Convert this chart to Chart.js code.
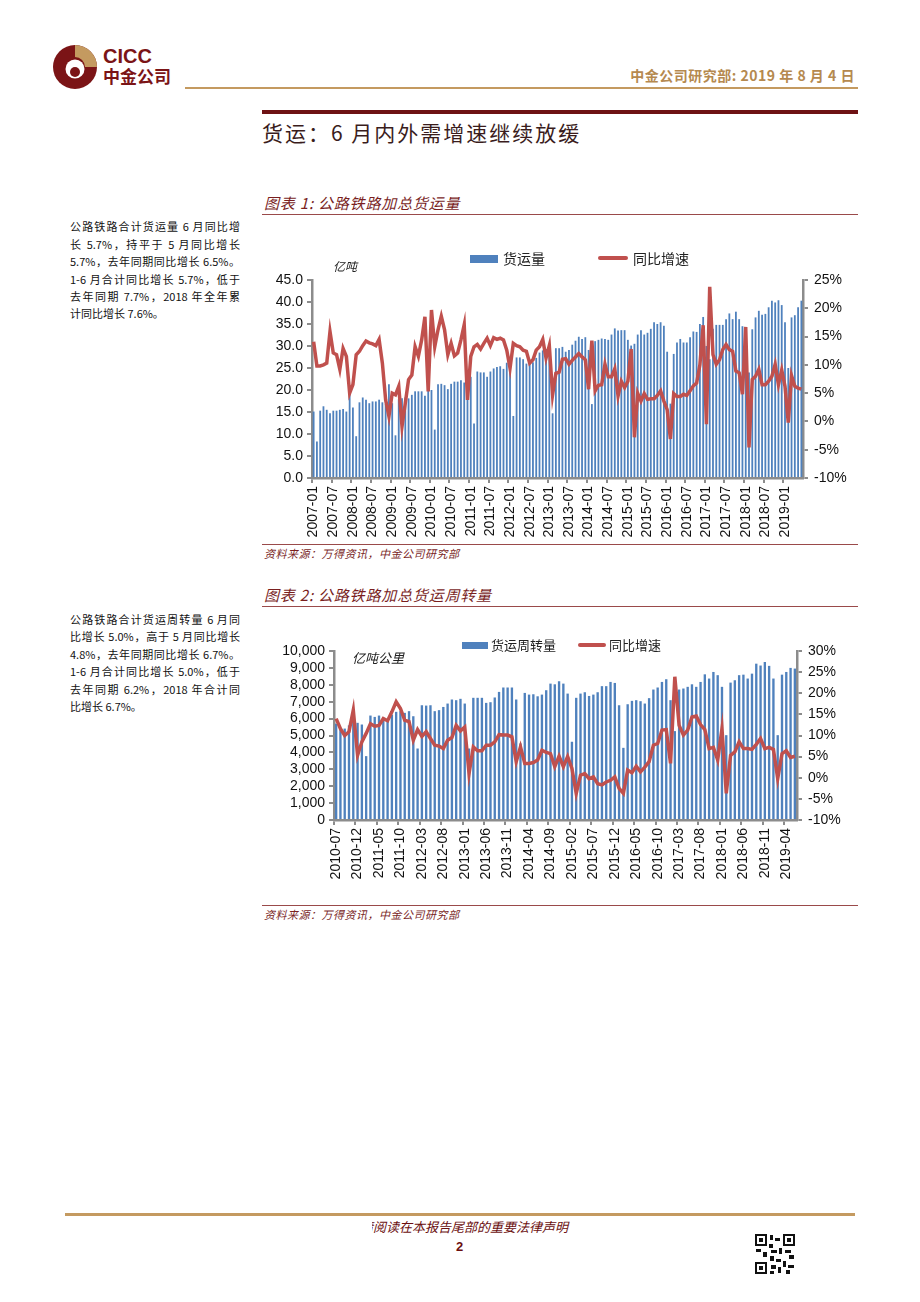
<!DOCTYPE html>
<html>
<head>
<meta charset="utf-8">
<script src="https://cdn.jsdelivr.net/npm/chart.js@4.4.0/dist/chart.umd.min.js"></script>
<style>
body { margin: 0; background: #fff; }
#page { position: relative; width: 920px; height: 1302px; overflow: hidden; font-family: "Noto Sans CJK SC", "Liberation Sans", sans-serif; }
.abs { position: absolute; white-space: nowrap; }
.side { position: absolute; left: 70px; width: 170px; font-size: 11px; line-height: 17.5px; color: #111; text-align: justify; text-align-last: justify; white-space: nowrap; }
.side.last { text-align-last: left; }
.ctitle { position: absolute; left: 264px; font-size: 15px; line-height: 18px; font-style: italic; color: #7a1f1f; letter-spacing: 0.8px; }
.src { position: absolute; left: 264px; font-size: 11px; line-height: 14px; font-style: italic; color: #7a1f1f; letter-spacing: 0.5px; }
.rule { position: absolute; left: 262px; width: 596px; height: 1px; background: #9a4a4a; }
.legend { position: absolute; font-size: 14px; line-height: 18px; color: #222; }
.box { position: absolute; }
</style>
</head>
<body>
<div id="page">
  <!-- header -->
  <svg class="abs" style="left:52px;top:44px" width="46" height="46" viewBox="0 0 46 46">
    <circle cx="23" cy="23" r="22" fill="#7b1416"/>
    <path d="M23 1 A22 22 0 0 1 45 23 L33 23 A10 10 0 0 0 23 13 Z" fill="#c49a60"/>
    <circle cx="23" cy="25" r="9.5" fill="#fff"/>
    <circle cx="23" cy="28" r="5" fill="#7b1416"/>
  </svg>
  <div class="abs" style="left:103px;top:45px;font:bold 20px 'Liberation Sans';color:#7b1416;line-height:22px">CICC</div>
  <div class="abs" style="left:103px;top:66px;font-weight:bold;font-size:17px;color:#7b1416;line-height:20px">中金公司</div>
  <div class="abs" style="right:65px;top:66px;font-weight:bold;font-size:14px;color:#b5894f;line-height:18px;letter-spacing:0.5px">中金公司研究部: 2019 年 8 月 4 日</div>
  <div class="box" style="left:185px;top:87px;width:673px;height:2px;background:#c49a60"></div>
  <div class="box" style="left:262px;top:110px;width:596px;height:4px;background:#6e1214"></div>
  <div class="abs" style="left:262px;top:119px;font-size:21px;line-height:26px;color:#3a1c1c;letter-spacing:2px">货运：6 月内外需增速继续放缓</div>

  <!-- figure 1 -->
  <div class="ctitle" style="top:194px">图表 1: 公路铁路加总货运量</div>
  <div class="rule" style="top:214px"></div>
  <div class="side" style="top:218px">公路铁路合计货运量 6 月同比增</div>
  <div class="side" style="top:236px">长 5.7%，持平于 5 月同比增长</div>
  <div class="side" style="top:253px">5.7%，去年同期同比增长 6.5%。</div>
  <div class="side" style="top:271px">1-6 月合计同比增长 5.7%，低于</div>
  <div class="side" style="top:288px">去年同期 7.7%，2018 年全年累</div>
  <div class="side last" style="top:305px">计同比增长 7.6%。</div>

  <div class="box" style="left:262px;top:260px;width:596px;height:280px"><canvas id="c1"></canvas></div>
  <div class="box" style="left:470px;top:255px;width:28px;height:8px;background:#4f81bd"></div>
  <div class="legend" style="left:503px;top:249px">货运量</div>
  <div class="box" style="left:598px;top:256px;width:30px;height:4px;border-radius:2px;background:#c0504d"></div>
  <div class="legend" style="left:633px;top:249px">同比增速</div>
  <div class="abs" style="left:333px;top:258px;font-size:12px;line-height:16px;font-style:italic;color:#222">亿吨</div>

  <div class="rule" style="top:544px"></div>
  <div class="src" style="top:546px">资料来源：万得资讯，中金公司研究部</div>

  <!-- figure 2 -->
  <div class="ctitle" style="top:586px">图表 2: 公路铁路加总货运周转量</div>
  <div class="rule" style="top:606px"></div>
  <div class="side" style="top:611px">公路铁路合计货运周转量 6 月同</div>
  <div class="side" style="top:628px">比增长 5.0%，高于 5 月同比增长</div>
  <div class="side" style="top:646px">4.8%，去年同期同比增长 6.7%。</div>
  <div class="side" style="top:663px">1-6 月合计同比增长 5.0%，低于</div>
  <div class="side" style="top:681px">去年同期 6.2%，2018 年合计同</div>
  <div class="side last" style="top:698px">比增长 6.7%。</div>

  <div class="box" style="left:262px;top:635px;width:596px;height:247px"><canvas id="c2"></canvas></div>
  <div class="box" style="left:462px;top:642px;width:26px;height:7px;background:#4f81bd"></div>
  <div class="legend" style="left:491px;top:636px;font-size:13px">货运周转量</div>
  <div class="box" style="left:578px;top:643px;width:28px;height:4px;border-radius:2px;background:#c0504d"></div>
  <div class="legend" style="left:609px;top:636px;font-size:13px">同比增速</div>
  <div class="abs" style="left:352px;top:650px;font-size:13px;line-height:16px;font-style:italic;color:#222">亿吨公里</div>

  <div class="rule" style="top:905px"></div>
  <div class="src" style="top:907px">资料来源：万得资讯，中金公司研究部</div>

  <!-- footer -->
  <div class="box" style="left:65px;top:1213px;width:790px;height:3px;background:#c49a60"></div>
  <div class="abs" style="left:372px;top:1218px;width:220px;height:20px;overflow:hidden">
    <div class="abs" style="left:-12px;top:0;font-size:13px;line-height:18px;font-style:italic;color:#6b0f0f">请阅读在本报告尾部的重要法律声明</div>
  </div>
  <div class="abs" style="left:456px;top:1238px;font:bold 13px 'Liberation Sans';color:#6b0f0f;line-height:18px">2</div>
  <svg class="abs" style="left:755px;top:1234px" width="40" height="40" viewBox="0 0 40 40">
    <rect x="0" y="0" width="12" height="12" fill="#111"/><rect x="2" y="2" width="8" height="8" fill="#fff"/><rect x="4" y="4" width="4" height="4" fill="#111"/>
    <rect x="28" y="0" width="12" height="12" fill="#111"/><rect x="30" y="2" width="8" height="8" fill="#fff"/><rect x="32" y="4" width="4" height="4" fill="#111"/>
    <rect x="0" y="28" width="12" height="12" fill="#111"/><rect x="2" y="30" width="8" height="8" fill="#fff"/><rect x="4" y="32" width="4" height="4" fill="#111"/>
    <rect x="15" y="1" width="3" height="5" fill="#111"/><rect x="20" y="4" width="5" height="3" fill="#111"/><rect x="14" y="10" width="4" height="4" fill="#111"/>
    <rect x="1" y="15" width="5" height="3" fill="#111"/><rect x="8" y="18" width="4" height="5" fill="#111"/><rect x="16" y="16" width="6" height="3" fill="#111"/>
    <rect x="24" y="14" width="3" height="6" fill="#111"/><rect x="30" y="16" width="6" height="3" fill="#111"/><rect x="34" y="21" width="5" height="4" fill="#111"/>
    <rect x="15" y="22" width="4" height="5" fill="#111"/><rect x="21" y="25" width="5" height="3" fill="#111"/><rect x="28" y="27" width="3" height="6" fill="#111"/>
    <rect x="16" y="31" width="5" height="4" fill="#111"/><rect x="23" y="33" width="3" height="6" fill="#111"/><rect x="33" y="31" width="6" height="3" fill="#111"/>
    <rect x="31" y="36" width="4" height="4" fill="#111"/><rect x="15" y="37" width="4" height="3" fill="#111"/>
  </svg>
</div>

<script>
Chart.defaults.font.family = "'Liberation Sans', Arial, sans-serif";
Chart.defaults.color = '#111';

// 图表1: 公路铁路加总货运量 (亿吨), 2007-01 .. 2019-06
const freightVolume = [
  15.1, 8.3, 15.3, 16.3, 15.5, 14.7, 15.3, 15.3, 15.5, 15.7, 15.1, 19.1,
  16.0, 9.5, 17.2, 18.3, 17.8, 17.0, 17.4, 17.4, 17.8, 17.2, 16.8, 21.3,
  17.0, 9.7, 17.9, 18.1, 18.3, 18.1, 18.9, 19.7, 19.7, 19.7, 18.7, 19.9,
  20.0, 11.0, 21.3, 21.4, 21.1, 20.2, 21.4, 21.9, 21.9, 22.2, 21.7, 22.6,
  23.0, 12.4, 24.2, 24.0, 24.0, 23.0, 24.2, 24.9, 25.2, 25.4, 24.8, 26.2,
  25.5, 14.1, 27.4, 27.4, 27.0, 26.0, 26.3, 26.3, 27.3, 28.5, 29.0, 29.3,
  29.0, 14.7, 29.5, 29.5, 29.8, 28.7, 29.1, 30.3, 31.2, 32.1, 31.6, 32.0,
  29.1, 16.8, 31.1, 31.4, 31.7, 31.6, 31.4, 32.6, 34.0, 33.5, 33.6, 33.6,
  31.4, 30.1, 30.5, 32.6, 33.6, 32.6, 33.0, 33.9, 35.4, 35.0, 35.4, 34.6,
  28.7, 16.9, 28.2, 30.8, 31.6, 30.8, 30.8, 32.0, 33.3, 33.2, 35.0, 36.6,
  30.0, 27.0, 33.9, 34.8, 34.8, 34.8, 36.1, 37.4, 36.1, 37.8, 36.1, 34.5,
  33.0, 24.0, 33.8, 36.5, 38.0, 37.1, 37.3, 38.8, 40.3, 39.9, 40.4, 39.3,
  35.4, 25.0, 36.5, 37.0, 38.8, 40.3
];
// 同比增速 (%)
const freightVolumeYoY = [
  14.1, 9.8, 9.8, 10.0, 10.3, 15.9, 12.1, 11.8, 9.2, 12.9, 11.5, 5.0,
  6.5, 11.8, 12.4, 13.4, 14.2, 13.9, 13.7, 13.4, 14.5, 10.3, 3.8, 0.9,
  5.0, 4.7, 6.2, -0.9, 3.2, 7.4, 8.2, 13.2, 11.5, 14.4, 18.5, 5.3,
  19.7, 13.2, 16.2, 18.6, 16.2, 11.8, 13.8, 11.6, 12.1, 14.4, 17.1, 3.8,
  11.5, 13.2, 13.6, 12.8, 13.8, 14.7, 13.4, 14.8, 14.5, 14.7, 14.4, 12.6,
  9.4, 13.8, 13.4, 13.2, 12.6, 12.4, 10.3, 10.9, 12.6, 13.2, 14.5, 11.2,
  13.4, 4.7, 8.5, 8.7, 11.0, 11.1, 10.1, 10.8, 11.4, 12.0, 11.4, 10.9,
  5.7, 14.3, 5.4, 6.4, 6.5, 10.1, 7.9, 7.9, 9.3, 4.5, 7.1, 6.0,
  7.1, 12.8, -2.8, 5.0, 3.6, 4.9, 3.9, 4.0, 4.0, 4.6, 5.4, 3.6,
  2.1, -3.1, 4.9, 4.4, 4.4, 4.8, 4.6, 5.4, 6.3, 6.8, 10.0, 17.0,
  -0.5, 23.8, 11.8, 10.1, 10.9, 12.7, 13.6, 12.7, 12.4, 8.9, 8.6, 4.8,
  16.7, -4.6, 7.4, 8.0, 9.2, 6.5, 6.5, 7.1, 8.0, 10.1, 6.5, 9.1,
  6.2, -0.2, 8.1, 6.2, 5.9, 5.7
];
const xTicks1 = ['2007-01', '2007-07', '2008-01', '2008-07', '2009-01', '2009-07', '2010-01', '2010-07',
  '2011-01', '2011-07', '2012-01', '2012-07', '2013-01', '2013-07', '2014-01', '2014-07', '2015-01',
  '2015-07', '2016-01', '2016-07', '2017-01', '2017-07', '2018-01', '2018-07', '2019-01'];

// 图表2: 公路铁路加总货运周转量 (亿吨公里), 2010-07 .. 2019-06
const freightTurnover = [
  5700, 5450, 5410, 5600, 6300, 5750,
  5650, 3780, 6180, 6100, 6180, 6000, 5910, 6240, 6400, 6440, 6340, 6440,
  6140, 4230, 6790, 6770, 6790, 6440, 6500, 6690, 6890, 7130, 7090, 7170,
  6890, 4230, 7230, 7230, 7230, 6930, 6970, 7250, 7580, 7840, 7840, 7840,
  7130, 4530, 7520, 7420, 7440, 7320, 7420, 7680, 8070, 8030, 8210, 8070,
  7480, 4630, 7230, 7480, 7560, 7340, 7420, 7560, 7920, 7920, 8170, 8110,
  6790, 4270, 6850, 7050, 7090, 7030, 6890, 7210, 7720, 7840, 8170, 8330,
  7090, 5260, 7720, 7780, 7880, 8030, 7880, 8170, 8620, 8370, 8760, 8570,
  7880, 5020, 8130, 8270, 8570, 8600, 8370, 8660, 9250, 9140, 9350, 9120,
  8370, 5020, 8600, 8760, 9000, 8960
];
const freightTurnoverYoY = [
  14.0, 11.6, 10.0, 10.9, 16.0, 5.3,
  8.5, 10.5, 12.8, 12.2, 12.4, 14.0, 13.5, 15.6, 18.0, 16.4, 13.6, 13.3,
  8.9, 11.4, 9.8, 10.9, 9.3, 7.7, 7.5, 6.9, 8.9, 9.5, 12.4, 11.1,
  12.0, 1.0, 7.3, 6.4, 6.4, 7.7, 7.7, 8.5, 10.2, 10.1, 10.1, 9.7,
  3.8, 7.3, 3.4, 3.4, 3.6, 4.2, 6.5, 6.0, 5.7, 2.6, 5.1, 2.6,
  5.0, 2.2, -3.7, 0.6, 1.0, -0.2, 0.2, -1.4, -1.7, -1.0, -0.6, 0.2,
  -2.5, -3.7, 1.8, 1.2, 2.7, 1.4, 2.5, 3.8, 7.7, 8.1, 11.3, 11.4,
  3.4, 23.9, 12.4, 10.1, 11.3, 14.4, 14.6, 12.6, 11.4, 6.9, 7.2, 4.2,
  11.6, -3.7, 5.3, 6.1, 8.5, 6.9, 6.9, 6.7, 7.9, 9.3, 6.9, 7.2,
  6.7, -0.2, 5.7, 6.4, 4.8, 5.1
];
const xTicks2 = ['2010-07', '2010-12', '2011-05', '2011-10', '2012-03', '2012-08', '2013-01', '2013-06',
  '2013-11', '2014-04', '2014-09', '2015-02', '2015-07', '2015-12', '2016-05', '2016-10', '2017-03',
  '2017-08', '2018-01', '2018-06', '2018-11', '2019-04'];

function monthRange(year, month, n) {
  const out = [];
  for (let k = 0; k < n; k++) {
    const m = month - 1 + k;
    out.push((year + Math.floor(m / 12)) + '-' + String(m % 12 + 1).padStart(2, '0'));
  }
  return out;
}

const axisGray = '#8c8c8c';
const tickFont = { size: 14 };

function makeChart(id, labels, xTicks, bars, yoy, cfg) {
  new Chart(document.getElementById(id), {
    type: 'bar',
    data: {
      labels: labels,
      datasets: [
        {
          type: 'line',
          data: yoy,
          yAxisID: 'y1',
          borderColor: '#c0504d',
          borderWidth: 3.5,
          pointRadius: 0,
          tension: 0,
          order: 0
        },
        {
          data: bars,
          yAxisID: 'y',
          backgroundColor: '#4f81bd',
          barPercentage: 0.55,
          categoryPercentage: 1.0,
          order: 1
        }
      ]
    },
    options: {
      responsive: true,
      maintainAspectRatio: false,
      animation: false,
      devicePixelRatio: 1,
      layout: { padding: { top: cfg.padTop, left: 0, right: 0, bottom: 0 } },
      plugins: { legend: { display: false }, tooltip: { enabled: false } },
      scales: {
        x: {
          ticks: {
            autoSkip: false,
            maxRotation: 90,
            minRotation: 90,
            padding: 3,
            font: tickFont,
            callback: function (v) {
              const l = this.getLabelForValue(v);
              return xTicks.includes(l) ? l : '';
            }
          },
          grid: {
            drawOnChartArea: false,
            tickLength: 5,
            lineWidth: 2,
            color: ctx => (xTicks.includes(labels[ctx.index]) || ctx.index === labels.length) ? axisGray : 'rgba(0,0,0,0)'
          },
          border: { color: axisGray, width: 2.5 },
          afterFit: s => { s.height = 62; }
        },
        y: {
          position: 'left',
          min: cfg.left.min,
          max: cfg.left.max,
          ticks: { stepSize: cfg.left.step, autoSkip: false, padding: 4, font: tickFont, callback: cfg.left.fmt },
          grid: { drawOnChartArea: false, tickLength: 5, lineWidth: 2, color: axisGray },
          border: { color: axisGray, width: 2.5 },
          afterFit: s => { s.width = cfg.left.width; }
        },
        y1: {
          position: 'right',
          min: cfg.right.min,
          max: cfg.right.max,
          ticks: { stepSize: 5, autoSkip: false, padding: 6, font: tickFont, callback: v => v + '%' },
          grid: { drawOnChartArea: false, tickLength: 5, lineWidth: 2, color: axisGray },
          border: { color: axisGray, width: 2.5 },
          afterFit: s => { s.width = cfg.right.width; }
        }
      }
    }
  });
}

makeChart('c1', monthRange(2007, 1, freightVolume.length), xTicks1, freightVolume, freightVolumeYoY, {
  padTop: 20,
  left: { min: 0, max: 45, step: 5, width: 50, fmt: v => v.toFixed(1) },
  right: { min: -10, max: 25, width: 55 }
});

makeChart('c2', monthRange(2010, 7, freightTurnover.length), xTicks2, freightTurnover, freightTurnoverYoY, {
  padTop: 16,
  left: { min: 0, max: 10000, step: 1000, width: 72, fmt: v => v.toLocaleString('en-US') },
  right: { min: -10, max: 30, width: 61 }
});
</script>
</body>
</html>
